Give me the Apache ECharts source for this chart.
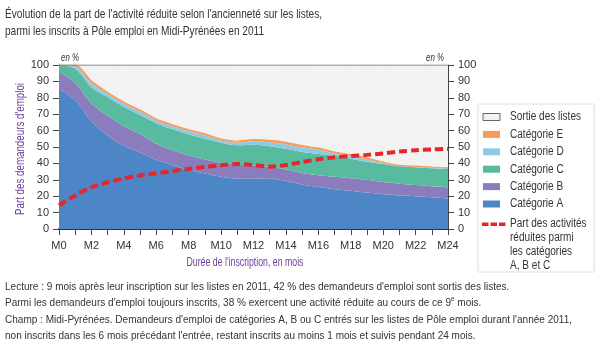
<!DOCTYPE html>
<html><head><meta charset="utf-8">
<script src="https://cdn.jsdelivr.net/npm/echarts@6/dist/echarts.min.js"></script>
<style>html,body{margin:0;padding:0;background:#fff}#c{width:600px;height:345px}</style>
</head><body><div id="c"></div><script>
// Months since registration
const months = ['M0','M1','M2','M3','M4','M5','M6','M7','M8','M9','M10','M11','M12',
  'M13','M14','M15','M16','M17','M18','M19','M20','M21','M22','M23','M24'];
// Share of job seekers (%) by status, stacked from the bottom
const catA = [85.5,78.6,65.7,57.0,50.8,46.7,42.2,39.0,36.1,33.8,31.8,30.6,30.6,31.0,29.2,27.2,25.6,24.3,23.3,22.2,21.2,20.5,20.0,19.4,18.5];
const catB = [10.2,10.6,10.8,12.0,11.9,11.3,9.8,9.0,8.7,8.6,8.6,8.6,7.9,6.8,7.1,7.0,7.2,7.5,7.7,7.8,7.4,7.1,6.8,6.7,7.0];
const catC = [4.3,8.6,10.0,11.5,11.8,11.5,12.5,12.8,13.0,12.6,12.2,11.8,12.9,12.7,12.6,12.8,13.0,12.8,11.9,11.0,11.0,10.6,10.8,10.9,11.1];
const catD = [0,1.5,2.3,1.8,1.9,2.1,1.7,1.8,1.8,2.1,1.4,1.6,2.1,2.4,2.7,2.8,2.5,1.4,1.3,1.3,0.7,0.4,0.5,0.5,0.5];
const catE = [0,0.7,1.4,0.9,0.9,0.9,0.8,0.9,0.9,0.9,0.8,0.9,1.0,1.1,1.2,1.0,1.0,0.9,1.1,0.9,0.5,0.2,0.2,0.2,0.2];
const sortie = [0,0,9.8,16.8,22.7,27.5,33.0,36.5,39.5,42.0,45.2,46.5,45.5,46.0,47.2,49.2,50.7,53.1,54.7,56.8,59.2,61.2,61.7,62.3,62.7];
// Share of reduced activity among categories A, B and C (%)
const activiteReduite = [14.5,20.5,25.5,28.5,30.8,32.6,34.0,35.3,36.6,37.8,38.9,39.6,39.0,38.0,39.0,40.8,42.5,43.7,44.5,45.2,46.1,47.2,48.0,48.5,48.8];
const yTicks = [0,10,20,30,40,50,60,70,80,90,100];

const FAMILY = '"Liberation Sans", Arial, sans-serif';
const PURPLE = '#6a3d9a';
const TXT = '#333';
const COLORS = {
  'Sortie des listes': '#f2f2f2', 'Catégorie E': '#f79a5c', 'Catégorie D': '#8ccbe6',
  'Catégorie C': '#58bb9f', 'Catégorie B': '#8b7dbd', 'Catégorie A': '#4d86c6'
};
const RED = '#e5262a';

// Narrow-looking text: measure with canvas and squeeze horizontally to a width
const mctx = document.createElement('canvas').getContext('2d');
function squeeze(lines, font, width) {
  mctx.font = font;
  const w = Math.max.apply(null, lines.map(l => mctx.measureText(l).width));
  return width / w;
}
function narrowText(text, font, x, y, width, styleExtra, props) {
  const lines = text.replace(/\{[a-z]+\|([^}]*)\}/g, '$1').split('\n');
  const el = {
    type: 'text', x, y, scaleX: squeeze(lines, font, width), silent: true,
    style: Object.assign({ text, font, fill: TXT, verticalAlign: 'top' }, styleExtra || {})
  };
  return Object.assign(el, props || {});
}

function area(name, data, line) {
  const color = COLORS[name];
  return {
    name, type: 'line', stack: 'total', data, smooth: 0.3, symbol: 'none',
    itemStyle: { color },
    lineStyle: line || { width: 0 },
    areaStyle: { color, opacity: 1 },
    emphasis: { disabled: true }
  };
}

const yAxisBase = {
  type: 'value', min: yTicks[0], max: yTicks[yTicks.length - 1], interval: 10,
  axisLine: { show: true, lineStyle: { color: '#444', width: 1 } },
  axisTick: { show: true, length: 6, lineStyle: { color: '#444' } },
  axisLabel: { color: TXT, fontSize: 11, fontFamily: FAMILY, margin: 10 },
  splitLine: { show: false }
};

// Legend drawn as graphic elements
const legendNames = ['Sortie des listes', 'Catégorie E', 'Catégorie D', 'Catégorie C', 'Catégorie B', 'Catégorie A'];
const legendFont = '12px ' + FAMILY;
const legendScale = squeeze(['Sortie des listes'], legendFont, 71);
const legendItems = [];
legendNames.forEach((n, i) => {
  const cy = 117 + i * 17.4;
  legendItems.push({ type: 'rect', silent: true, shape: { x: 483, y: cy - 3.5, width: 17, height: 7 },
    style: { fill: COLORS[n], stroke: n === 'Sortie des listes' ? '#666' : null, lineWidth: 1 } });
  legendItems.push({ type: 'text', silent: true, x: 510, y: cy, scaleX: legendScale,
    style: { text: n, font: legendFont, fill: TXT, verticalAlign: 'middle' } });
});
[482, 490.5, 499].forEach(x0 => {
  legendItems.push({ type: 'rect', silent: true, shape: { x: x0, y: 222.5, width: 6.5, height: 3.5 }, style: { fill: RED } });
});
legendItems.push({ type: 'text', silent: true, x: 510, y: 217, scaleX: legendScale,
  style: { text: 'Part des activités\nréduites parmi\nles catégories\nA, B et C', font: legendFont, fill: TXT,
    lineHeight: 14, verticalAlign: 'top' } });

const titleFont = '13px ' + FAMILY;
const noteFont = '11px ' + FAMILY;
const nameFont = '12px ' + FAMILY;

const chart = echarts.init(document.getElementById('c'), null, { renderer: 'canvas' });
chart.setOption({
  animation: false,
  backgroundColor: '#fff',
  textStyle: { fontFamily: FAMILY },
  grid: { left: 59, right: 152, top: 65, bottom: 116 },
  xAxis: {
    type: 'category', data: months, boundaryGap: false,
    axisLine: { lineStyle: { color: '#2b3550', width: 2 } },
    axisTick: { show: true, interval: 0, length: 6, lineStyle: { color: '#444' } },
    axisLabel: { interval: 1, color: TXT, fontSize: 11, fontFamily: FAMILY, margin: 11 }
  },
  yAxis: [
    Object.assign({}, yAxisBase, { position: 'left' }),
    Object.assign({}, yAxisBase, { position: 'right' })
  ],
  graphic: [
    { type: 'rect', silent: true, z: -1, shape: { x: 478, y: 104, width: 116, height: 168 },
      style: { fill: '#fff', stroke: '#d8dde3', lineWidth: 1 } },
    narrowText("Évolution de la part de l'activité réduite selon l'ancienneté sur les listes,\nparmi les inscrits à Pôle emploi en Midi-Pyrénées en 2011",
      titleFont, 5, 6, 317, { lineHeight: 17 }),
    narrowText('en %', 'italic 10px ' + FAMILY, 61, 53, 18),
    narrowText('en %', 'italic 10px ' + FAMILY, 426, 53, 18),
    narrowText("Part des demandeurs d'emploi", nameFont, 21, 149, 132,
      { fill: PURPLE, align: 'center', verticalAlign: 'middle' }, { rotation: Math.PI / 2 }),
    narrowText("Durée de l'inscription, en mois", nameFont, 245, 263, 117,
      { fill: PURPLE, align: 'center', verticalAlign: 'middle' }),
    narrowText(
      "Lecture : 9 mois après leur inscription sur les listes en 2011, 42 % des demandeurs d'emploi sont sortis des listes.\n" +
      "Parmi les demandeurs d'emploi toujours inscrits, 38 % exercent une activité réduite au cours de ce 9{sup|e} mois.\n" +
      "Champ : Midi-Pyrénées. Demandeurs d'emploi de catégories A, B ou C entrés sur les listes de Pôle emploi durant l'année 2011,\n" +
      "non inscrits dans les 6 mois précédant l'entrée, restant inscrits au moins 1 mois et suivis pendant 24 mois.",
      noteFont, 5, 279, 567,
      { lineHeight: 16.3,
        rich: { sup: { fontSize: 7, verticalAlign: 'top', padding: [0, 0, 5, 0], fill: TXT, fontFamily: FAMILY } } })
  ].concat(legendItems),
  series: [
    area('Catégorie A', catA),
    area('Catégorie B', catB),
    area('Catégorie C', catC),
    area('Catégorie D', catD),
    area('Catégorie E', catE, { width: 1.2, color: COLORS['Catégorie E'] }),
    area('Sortie des listes', sortie, { width: 1, color: '#666' }),
    {
      name: 'Part des activités réduites parmi les catégories A, B et C',
      type: 'line', data: activiteReduite, smooth: 0.3, symbol: 'none', z: 5,
      itemStyle: { color: RED },
      lineStyle: { color: RED, width: 4, type: [8, 4] },
      emphasis: { disabled: true }
    }
  ]
});
</script></body></html>
